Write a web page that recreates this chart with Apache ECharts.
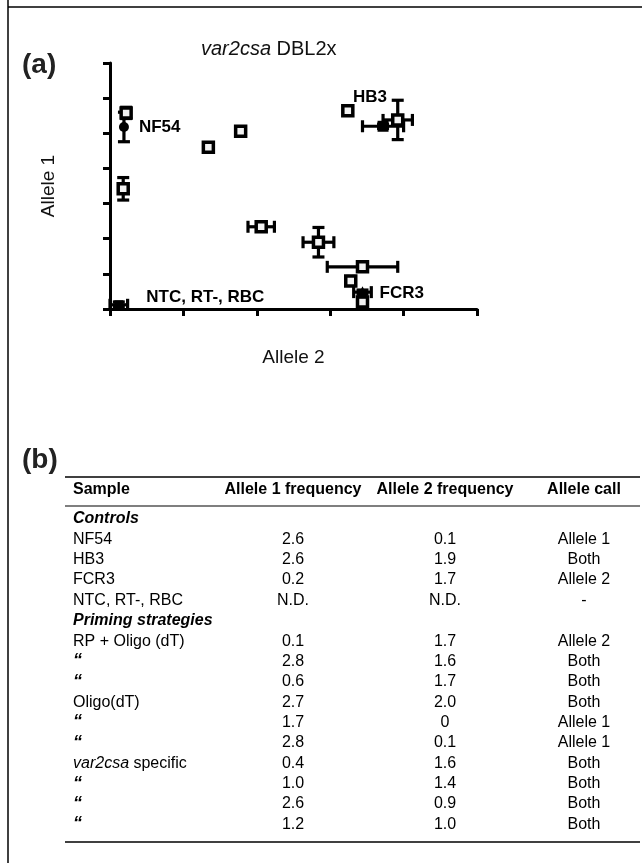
<!DOCTYPE html>
<html>
<head>
<meta charset="utf-8">
<title>var2csa DBL2x</title>
<script src="https://cdn.jsdelivr.net/npm/echarts@6/dist/echarts.min.js"></script>
<style>
  html, body { margin: 0; padding: 0; background: #fff; }
  #main { width: 642px; height: 863px; }
</style>
</head>
<body>
<div id="main"></div>
<script>
// (a) scatter: x = Allele 2, y = Allele 1
var primingAllele2 = [0.11, 0.67, 0.89, 0.09, 1.62, 1.96, 1.03, 1.42, 1.72, 1.64, 1.72];
var primingAllele1 = [2.79, 2.30, 2.53, 1.71, 2.82, 2.69, 1.17, 0.95, 0.60, 0.40, 0.10];
var primingErr2 = [0, 0, 0.03, 0, 0, 0.10, 0.09, 0.105, 0.24, 0.02, 0];
var primingErr1 = [0.08, 0.03, 0.05, 0.16, 0, 0.28, 0, 0.21, 0, 0.06, 0];

var controlNames = ['NF54', 'HB3', 'FCR3', 'NTC, RT-, RBC'];
var controlAllele2 = [0.095, 1.86, 1.72, 0.06];
var controlAllele1 = [2.59, 2.60, 0.24, 0.06];
var controlErr2 = [0, 0.14, 0.06, 0.06];
var controlErr1 = [0.21, 0.03, 0.03, 0.04];

var xTicks = [0, 0.5, 1, 1.5, 2, 2.5];
var yTicks = [0, 0.5, 1, 1.5, 2, 2.5, 3, 3.5];

// (b) table
var tableHeader = ['Sample', 'Allele 1 frequency', 'Allele 2 frequency', 'Allele call'];
var sampleNames = ['Controls', 'NF54', 'HB3', 'FCR3', 'NTC, RT-, RBC', 'Priming strategies',
  'RP + Oligo (dT)', '\u201C', '\u201C', 'Oligo(dT)', '\u201C', '\u201C',
  '{i|var2csa} specific', '\u201C', '\u201C', '\u201C'];
var allele1Freq = ['', '2.6', '2.6', '0.2', 'N.D.', '', '0.1', '2.8', '0.6', '2.7', '1.7', '2.8', '0.4', '1.0', '2.6', '1.2'];
var allele2Freq = ['', '0.1', '1.9', '1.7', 'N.D.', '', '1.7', '1.6', '1.7', '2.0', '0', '0.1', '1.6', '1.4', '0.9', '1.0'];
var alleleCall = ['', 'Allele 1', 'Both', 'Allele 2', '-', '', 'Allele 2', 'Both', 'Both', 'Both', 'Allele 1', 'Allele 1', 'Both', 'Both', 'Both', 'Both'];
var groupRows = ['Controls', 'Priming strategies'];

var FONT = '"Liberation Sans", Arial, sans-serif';

function zip(a, b, c, d) {
  return a.map(function (v, i) { return [v, b[i], c[i], d[i]]; });
}

// error bars drawn through the axis scales
function renderErr(params, api) {
  var x = api.value(0), y = api.value(1), ex = api.value(2), ey = api.value(3);
  var c = api.coord([x, y]);
  var cap = 6;
  var kids = [];
  function seg(x1, y1, x2, y2) {
    kids.push({ type: 'line', shape: { x1: x1, y1: y1, x2: x2, y2: y2 },
      style: { stroke: '#000', lineWidth: 3.2 } });
  }
  if (ex > 0) {
    var l = api.coord([x - ex, y])[0], r = api.coord([x + ex, y])[0];
    seg(l, c[1], r, c[1]);
    seg(l, c[1] - cap, l, c[1] + cap);
    seg(r, c[1] - cap, r, c[1] + cap);
  }
  if (ey > 0) {
    var t = api.coord([x, y + ey])[1], b = api.coord([x, y - ey])[1];
    seg(c[0], t, c[0], b);
    seg(c[0] - cap, t, c[0] + cap, t);
    seg(c[0] - cap, b, c[0] + cap, b);
  }
  return { type: 'group', children: kids };
}

var labelStyle = { show: true, fontFamily: FONT, fontWeight: 'bold', fontSize: 17, color: '#000',
  textBorderWidth: 0 };

function controlSeries(i, symbol, size, label) {
  return {
    type: 'scatter', name: controlNames[i], symbol: symbol, symbolSize: size, z: 5,
    itemStyle: { color: '#000', opacity: 1 },
    label: Object.assign({}, labelStyle, { formatter: controlNames[i] }, label),
    emphasis: { disabled: true },
    data: [[controlAllele2[i], controlAllele1[i]]]
  };
}

// table graphics
var colX = [73, 293, 445, 584];
var rowTop = 519, rowStep = 20.35;
var graphics = [
  { type: 'line', shape: { x1: 8, y1: 0, x2: 8, y2: 863 }, style: { stroke: '#000', lineWidth: 1.5 } },
  { type: 'line', shape: { x1: 8, y1: 7, x2: 642, y2: 7 }, style: { stroke: '#000', lineWidth: 1.5 } },
  { type: 'text', x: 22, y: 65, style: { text: '(a)', font: 'bold 28px ' + FONT, fill: '#222', textVerticalAlign: 'middle' } },
  { type: 'text', x: 22, y: 460, style: { text: '(b)', font: 'bold 28px ' + FONT, fill: '#222', textVerticalAlign: 'middle' } },
  { type: 'line', shape: { x1: 65, y1: 477, x2: 640, y2: 477 }, style: { stroke: '#000', lineWidth: 1.5 } },
  { type: 'line', shape: { x1: 65, y1: 506, x2: 640, y2: 506 }, style: { stroke: '#000', lineWidth: 1.2 } },
  { type: 'line', shape: { x1: 65, y1: 842, x2: 640, y2: 842 }, style: { stroke: '#000', lineWidth: 1.5 } }
];
tableHeader.forEach(function (h, c) {
  graphics.push({ type: 'text', x: colX[c], y: 490, style: {
    text: h, font: 'bold 16px ' + FONT, fill: '#000',
    textAlign: c === 0 ? 'left' : 'center', textVerticalAlign: 'middle' } });
});
sampleNames.forEach(function (name, r) {
  var y = rowTop + r * rowStep;
  var isGroup = groupRows.indexOf(name) >= 0;
  var isQuote = name === '\u201C';
  graphics.push({ type: 'text', x: colX[0], y: y, style: {
    text: name,
    font: (isGroup ? 'italic bold 16px ' : isQuote ? 'italic bold 18px ' : '16px ') + FONT,
    fill: '#000', textAlign: 'left', textVerticalAlign: 'middle',
    rich: { i: { fontStyle: 'italic', fontSize: 16, fontFamily: FONT, fill: '#000' } } } });
  [allele1Freq[r], allele2Freq[r], alleleCall[r]].forEach(function (v, k) {
    if (!v) return;
    graphics.push({ type: 'text', x: colX[k + 1], y: y, style: {
      text: v, font: '16px ' + FONT, fill: '#000', textAlign: 'center', textVerticalAlign: 'middle' } });
  });
});

var axisCommon = {
  type: 'value', min: 0,
  interval: 0.5,
  axisLine: { show: true, onZero: false, lineStyle: { color: '#000', width: 3 } },
  axisTick: { show: true, length: 7, lineStyle: { color: '#000', width: 3 } },
  axisLabel: { show: false },
  splitLine: { show: false },
  nameLocation: 'middle',
  nameTextStyle: { fontFamily: FONT, fontSize: 19, color: '#111' }
};

var chart = echarts.init(document.getElementById('main'));
chart.setOption({
  animation: false,
  backgroundColor: '#fff',
  title: {
    text: '{i|var2csa} DBL2x', left: 196, top: 34,
    textStyle: { fontFamily: FONT, fontSize: 20, fontWeight: 'normal', color: '#111',
      rich: { i: { fontStyle: 'italic', fontFamily: FONT, fontSize: 20, color: '#111' } } }
  },
  grid: { left: 110, top: 63, width: 367, height: 246 },
  xAxis: Object.assign({}, axisCommon, { max: xTicks[xTicks.length - 1], name: 'Allele 2', nameGap: 39 }),
  yAxis: Object.assign({}, axisCommon, { max: yTicks[yTicks.length - 1], name: 'Allele 1', nameGap: 52 }),
  graphic: graphics,
  series: [
    { type: 'custom', renderItem: renderErr, clip: false, z: 2,
      encode: { x: 0, y: 1 }, data: zip(primingAllele2, primingAllele1, primingErr2, primingErr1) },
    { type: 'custom', renderItem: renderErr, clip: false, z: 2,
      encode: { x: 0, y: 1 }, data: zip(controlAllele2, controlAllele1, controlErr2, controlErr1) },
    { type: 'scatter', name: 'Priming strategies', symbol: 'rect', symbolSize: 10, z: 4,
      itemStyle: { color: '#f2f2f2', borderColor: '#000', borderWidth: 3.5, opacity: 1 },
      emphasis: { disabled: true },
      data: primingAllele2.map(function (v, i) { return [v, primingAllele1[i]]; }) },
    controlSeries(0, 'circle', 10, { position: 'right', distance: 10 }),
    controlSeries(1, 'rect', 11, { position: 'top', distance: 15, offset: [-13, 0] }),
    controlSeries(2, 'triangle', 12, { position: 'right', distance: 11, offset: [0, 1] }),
    controlSeries(3, 'rect', 9, { position: 'right', distance: 23, offset: [0, -7] })
  ]
});
</script>
</body>
</html>
